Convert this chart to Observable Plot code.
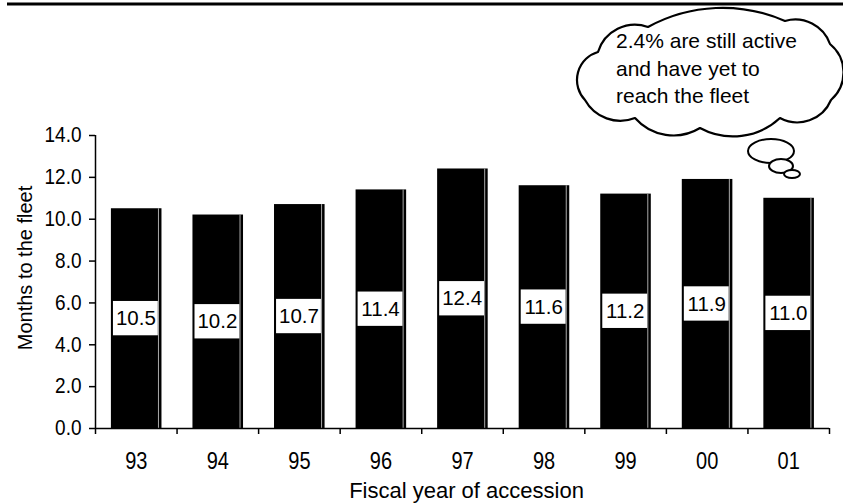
<!DOCTYPE html>
<html><head><meta charset="utf-8">
<script src="https://cdn.jsdelivr.net/npm/d3@7"></script>
<script src="https://cdn.jsdelivr.net/npm/@observablehq/plot@0.6"></script>
<style>
html,body{margin:0;padding:0;background:#fff;}
svg{display:block;}
</style></head><body><div id="chart"></div>
<script>
const years = ["93","94","95","96","97","98","99","00","01"];
const months = [10.5,10.2,10.7,11.4,12.4,11.6,11.2,11.9,11.0];
const yTicks = [0,2,4,6,8,10,12,14];
const noteLines = ["2.4% are still active","and have yet to","reach the fleet"];
const xTitle = "Fiscal year of accession";
const yTitle = "Months to the fleet";

const data = years.map((year,i)=>({i, year, value: months[i]}));
const boundaries = d3.range(0, years.length+1);
const centers = years.map((_,i)=>i+0.5);

const font = "'Liberation Sans', Arial, Helvetica, sans-serif";
const W=843, H=504;
const boxHalf = 0.82;

const plot = Plot.plot({
  width: W, height: H,
  marginLeft: 95, marginRight: 14, marginTop: 135, marginBottom: 76,
  style: {fontFamily: font, color: "#000", background: "#fff", overflow: "visible"},
  x: {type: "linear", domain: [0, years.length]},
  y: {domain: [0, 14]},
  marks: [
    Plot.rectY(data, {x1: d=>d.i+0.195, x2: d=>d.i+0.815, y1: 0, y2: "value", fill: "#000"}),
    Plot.ruleX(data, {x: d=>d.i+0.815, y1: 0, y2: "value", dx: -3.5, stroke: "#aaa", strokeWidth: 1}),
    Plot.rect(data, {x1: d=>d.i+0.22, x2: d=>d.i+0.77, y1: d=>d.value/2 - boxHalf, y2: d=>d.value/2 + boxHalf, fill: "#fff"}),
    Plot.text(data, {x: d=>d.i+0.495, y: d=>d.value/2, text: d=>d.value.toFixed(1), fontSize: 20.5, fill: "#000", ariaLabel: "value labels"}),
    Plot.axisY({ticks: yTicks, tickFormat: d=>d.toFixed(1), tickSize: 6, tickPadding: 8, fontSize: 19, label: null, strokeWidth: 1.5}),
    Plot.axisX({ticks: boundaries, tickSize: 6, tickFormat: ()=>"", label: null, strokeWidth: 1.5}),
    Plot.axisX({ticks: centers, tickSize: 0, tickPadding: 23, tickFormat: d=>years[Math.round(d-0.5)], fontSize: 20, label: null}),
    Plot.ruleX([0], {strokeWidth: 1.5}),
    Plot.ruleY([0], {strokeWidth: 1.5}),
    Plot.text([yTitle], {frameAnchor: "left", textAnchor: "middle", lineAnchor: "middle", rotate: -90, dx: -70, dy: -14, fontSize: 20, ariaLabel: "y title"}),
    Plot.text([xTitle], {frameAnchor: "bottom", textAnchor: "middle", lineAnchor: "middle", dx: 4, dy: 62, fontSize: 22, ariaLabel: "x title"})
  ]
});
document.getElementById("chart").appendChild(plot);

const svg = d3.select(plot);

// the scanned original's lettering is vertically stretched; mimic it
const stretch = {"y-axis tick label": 1.12, "x-axis tick label": 1.22, "value labels": 1.25, "y title": 1.15};
Object.entries(stretch).forEach(([name, s]) => {
  svg.selectAll(`g[aria-label="${name}"] text`).each(function() {
    const x = +this.getAttribute("x") || 0, y = +this.getAttribute("y") || 0;
    const tr = this.getAttribute("transform") || "";
    this.setAttribute("transform", `${tr} translate(${x},${y}) scale(1,${s}) translate(${-x},${-y})`);
  });
});

// decorations: top rule and thought cloud
svg.append("line").attr("x1", 7).attr("x2", 843).attr("y1", 4).attr("y2", 4)
  .attr("stroke", "#000").attr("stroke-width", 3);

const cloudPts = [[585,100],[598,52,14],[648,27,12],[785,21,16],[830,44,10],[831,100,13],[780,118,12],[700,128,13],[635,118,12],[585,100,10]];
let p = `M${cloudPts[0][0]},${cloudPts[0][1]}`;
for (let k = 1; k < cloudPts.length; k++) {
  const [x0,y0] = cloudPts[k-1];
  const [x,y,s] = cloudPts[k];
  const c = Math.hypot(x-x0, y-y0);
  const r = (c*c/4 + s*s)/(2*s);
  p += ` A${r.toFixed(1)},${r.toFixed(1)} 0 0 1 ${x},${y}`;
}
p += "Z";
const g = svg.append("g").attr("class", "cloud");
g.append("path").attr("d", p).attr("fill", "#fff").attr("stroke", "#000").attr("stroke-width", 2.2).attr("stroke-linejoin", "round");
[[771,151,23,12],[781,166,12,7],[792,174,8,4]].forEach(([cx,cy,rx,ry]) => {
  g.append("ellipse").attr("cx", cx).attr("cy", cy).attr("rx", rx).attr("ry", ry)
    .attr("fill", "#fff").attr("stroke", "#000").attr("stroke-width", 2);
});
const t = g.append("text").attr("font-family", font).attr("font-size", 21)
  .attr("fill", "#000").attr("text-anchor", "start");
noteLines.forEach((line, k) => {
  t.append("tspan").attr("x", 616).attr("y", 48 + k*27.5).text(line);
});
</script></body></html>
